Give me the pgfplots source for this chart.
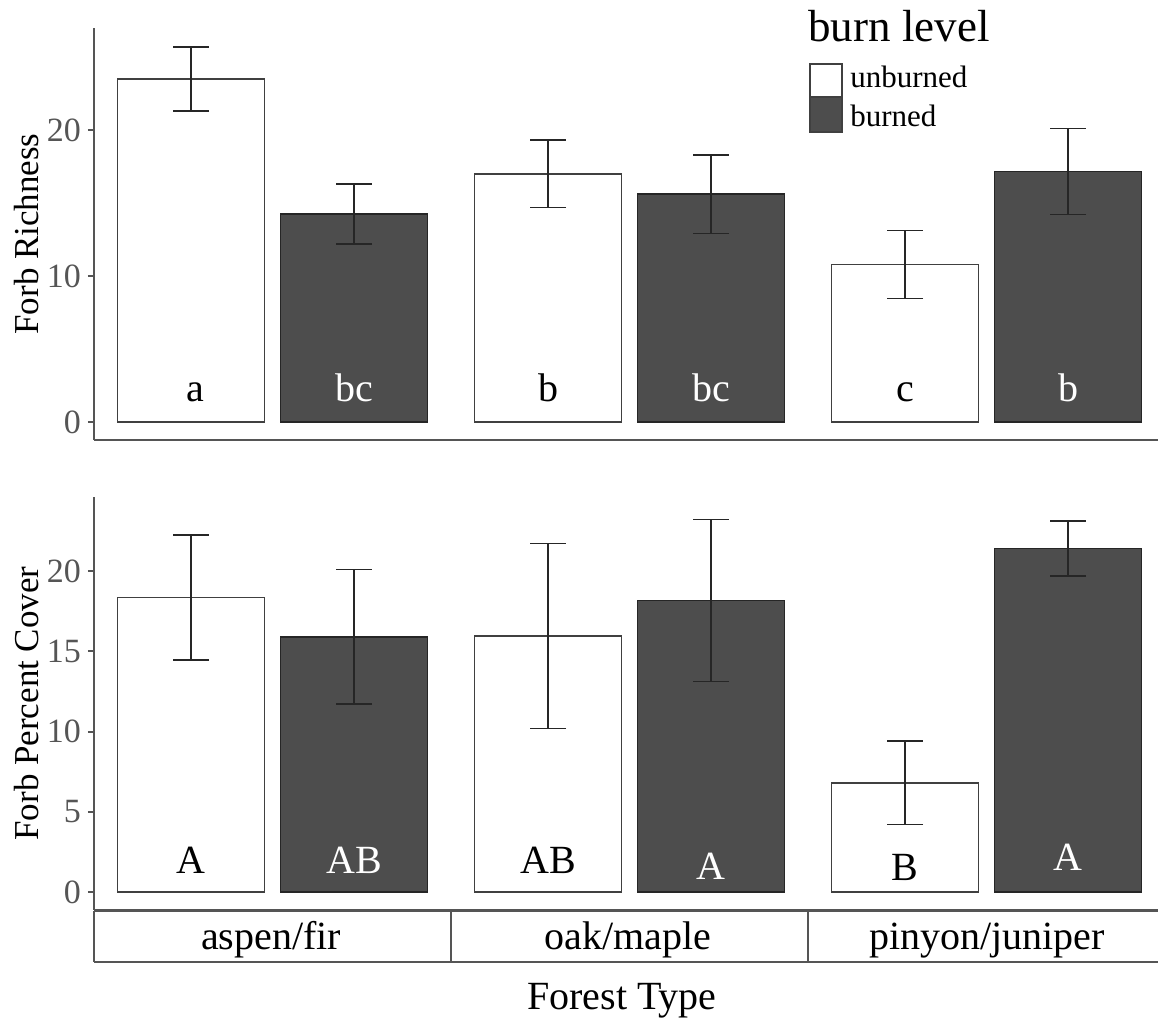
\documentclass[border=0pt]{standalone}
\usepackage{fontspec}
\setmainfont{Liberation Serif}
\usepackage{pgfplots}
\pgfplotsset{compat=1.18}
\definecolor{darkbar}{HTML}{4D4D4D}
\definecolor{axgray}{HTML}{555555}
\tikzset{lab/.style={font=\fontsize{20}{20}\selectfont, anchor=base}}
\pgfplotsset{
 myax/.style={
  anchor=south west, width=532pt, scale only axis, xmin=0.5, xmax=3.48,
  axis x line*=bottom, axis y line*=left,
  axis line style={axgray, line width=1pt},
  xtick=\empty, tick align=outside, major tick length=3pt,
  ytick style={axgray, line width=1pt},
  yticklabel style={text=axgray, font=\fontsize{17}{17}\selectfont},
  /pgf/number format/assume math mode=true,
  every axis y label/.style={at={(axis description cs:0,0.5)}, rotate=90, anchor=center, yshift=33.5pt, font=\fontsize{17.5}{17.5}\selectfont},
  clip=false,
 },
 ub/.style={ybar, bar width=73.5pt, bar shift=-40.75pt, fill=white, draw=black!75, line width=0.8pt},
 bb/.style={ybar, bar width=73.5pt, bar shift=40.75pt, fill=darkbar, draw=black!85, line width=0.8pt},
 eb/.style={forget plot, draw=none, mark=none,
  error bars/y dir=both, error bars/y explicit,
  error bars/error bar style={draw=black!85, line width=0.75pt},
  error bars/error mark=-,
  error bars/error mark options={rotate=90, draw=black!85, line width=0.75pt, mark size=9pt}},
}
\begin{document}
\begin{tikzpicture}
\path[use as bounding box] (0pt,0pt) rectangle (579pt,511.5pt);
% top panel
\begin{axis}[myax, at={(47pt,291.5pt)}, height=206pt, ymin=-1.233, ymax=26.99,
  ytick={0,10,20}, ylabel={Forb Richness}]
\addplot[ub] coordinates {(1,23.5) (2,17.0) (3,10.8)};
\addplot[bb] coordinates {(1,14.25) (2,15.6) (3,17.15)};
\addplot[eb] coordinates {(0.7717,23.5) +- (0,2.2) (1.7717,17.0) +- (0,2.3) (2.7717,10.8) +- (0,2.33)};
\addplot[eb] coordinates {(1.2283,14.25) +- (0,2.05) (2.2283,15.6) +- (0,2.7) (3.2283,17.15) +- (0,2.95)};
\node[lab] at ([xshift=-38.75pt]axis cs:1,1.37) {a};
\node[lab, text=white] at ([xshift=40.75pt]axis cs:1,1.37) {bc};
\node[lab] at ([xshift=-40.75pt]axis cs:2,1.37) {b};
\node[lab, text=white] at ([xshift=40.75pt]axis cs:2,1.37) {bc};
\node[lab] at ([xshift=-40.75pt]axis cs:3,1.37) {c};
\node[lab, text=white] at ([xshift=40.75pt]axis cs:3,1.37) {b};
\end{axis}
% bottom panel
\begin{axis}[myax, at={(47pt,56.5pt)}, height=206.5pt, ymin=-1.12, ymax=24.61,
  ytick={0,5,10,15,20}, ylabel={Forb Percent Cover}]
\addplot[ub] coordinates {(1,18.35) (2,15.95) (3,6.8)};
\addplot[bb] coordinates {(1,15.9) (2,18.15) (3,21.4)};
\addplot[eb] coordinates {(0.7717,18.35) +- (0,3.9) (1.7717,15.95) +- (0,5.75) (2.7717,6.8) +- (0,2.6)};
\addplot[eb] coordinates {(1.2283,15.9) +- (0,4.2) (2.2283,18.15) +- (0,5.05) (3.2283,21.4) +- (0,1.7)};
\node[lab] at ([xshift=-40.75pt]axis cs:1,1.18) {A};
\node[lab, text=white] at ([xshift=40.75pt]axis cs:1,1.18) {AB};
\node[lab] at ([xshift=-40.75pt]axis cs:2,1.18) {AB};
\node[lab, text=white] at ([xshift=40.75pt]axis cs:2,0.81) {A};
\node[lab] at ([xshift=-40.75pt]axis cs:3,0.69) {B};
\node[lab, text=white] at ([xshift=40.75pt]axis cs:3,1.31) {A};
\end{axis}
% strip
\draw[axgray, line width=1pt] (47pt,56pt) -- (580pt,56pt);
\draw[axgray, line width=1pt] (47pt,30.5pt) -- (580pt,30.5pt);
\draw[axgray, line width=1pt] (47pt,56pt) -- (47pt,30.5pt);
\draw[axgray, line width=0.75pt] (225.5pt,56pt) -- (225.5pt,30.5pt);
\draw[axgray, line width=0.75pt] (404pt,56pt) -- (404pt,30.5pt);
\node[font=\fontsize{20}{20}\selectfont, anchor=base] at (135.5pt,36.5pt) {aspen/fir};
\node[font=\fontsize{20}{20}\selectfont, anchor=base] at (314pt,36.5pt) {oak/maple};
\node[font=\fontsize{20}{20}\selectfont, anchor=base] at (493.5pt,36.5pt) {pinyon/juniper};
\node[font=\fontsize{20}{20}\selectfont, anchor=base] at (311pt,6.5pt) {Forest Type};
% legend
\node[font=\fontsize{22.5}{22.5}\selectfont, anchor=base west, inner sep=0pt] at (404pt,490.5pt) {burn level};
\draw[fill=white, draw=black!75, line width=0.75pt] (405pt,479.5pt) rectangle (421pt,463pt);
\draw[fill=darkbar, draw=black!75, line width=0.75pt] (405pt,463pt) rectangle (421pt,445.5pt);
\node[font=\fontsize{15.5}{15.5}\selectfont, anchor=base west, inner sep=0pt] at (425pt,467.5pt) {unburned};
\node[font=\fontsize{15.5}{15.5}\selectfont, anchor=base west, inner sep=0pt] at (425pt,448pt) {burned};
\end{tikzpicture}
\end{document}
